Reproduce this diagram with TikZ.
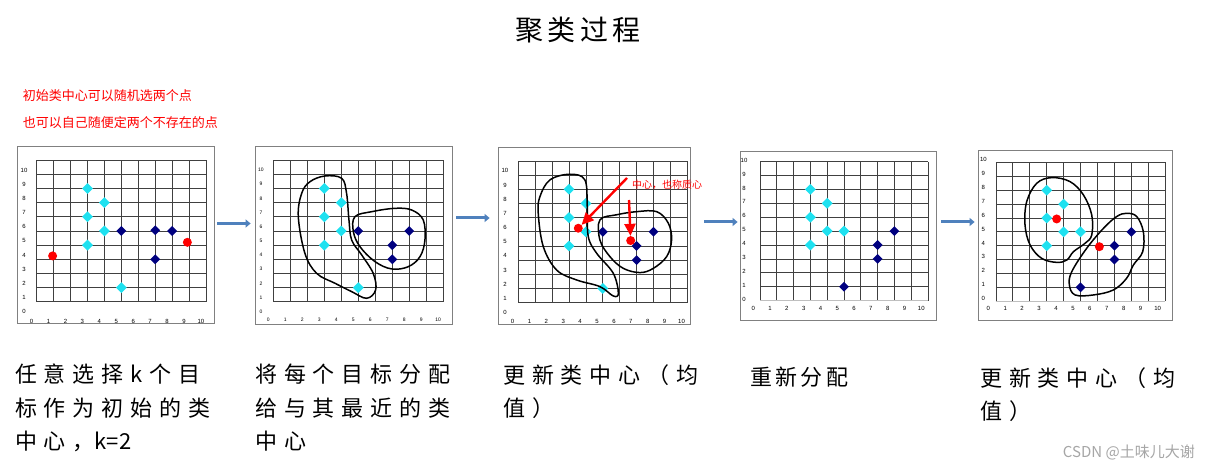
\documentclass[tikz,border=0pt]{standalone}
\usepackage{fontspec}
\setmainfont{Liberation Sans}
\newfontfamily\cjk{Noto Sans CJK SC}
\newfontfamily\cjktitle[LetterSpace=15]{Noto Sans CJK SC}
\newfontfamily\cjkwide[LetterSpace=31]{Noto Sans CJK SC}
\newfontfamily\cjkmid[LetterSpace=15]{Noto Sans CJK SC}
\usetikzlibrary{shapes.geometric,arrows.meta}

\definecolor{ptcyan}{RGB}{30,225,240}
\definecolor{ptnavy}{RGB}{0,0,128}
\definecolor{ptred}{RGB}{255,0,0}
\definecolor{flowblue}{RGB}{79,129,189}

\tikzset{
  panel/.style={draw=gray, line width=0.8pt, inner sep=0pt},
  gridline/.style={black!75, line width=0.7pt, step={(1,1)}},
  axisline/.style={gray!50, line width=1.4pt},
  ticklab/.style={font=\fontsize{6}{6}\selectfont, inner sep=0pt},
  smalllab/.style={font=\fontsize{5}{5}\selectfont, inner sep=0pt},
  cyanpt/.style={diamond, fill=ptcyan, inner sep=0pt, minimum size=11pt},
  navypt/.style={diamond, fill=ptnavy, inner sep=0pt, minimum size=10pt},
  centre/.style={circle, fill=ptred, inner sep=0pt, minimum size=9pt},
  blob/.style={black, line width=1.5pt},
  flowarrow/.style={flowblue, line width=3pt, -{Triangle[length=5pt,width=8pt]}},
  notearrow/.style={ptred, line width=2.4pt, -{Triangle[length=12pt,width=11pt]}},
  hint/.style={anchor=west, inner sep=0pt, text=ptred, font=\cjk\fontsize{13}{13}\selectfont},
  caption/.style={anchor=north west, align=left, inner sep=0pt, font=\cjkwide\fontsize{22}{33.5}\selectfont}
}

\begin{document}
\begin{tikzpicture}[x=1pt, y=-1pt]
    \path[fill=white, use as bounding box] (0,0) rectangle (1210,473);

    % Title and hints
    \node[font=\cjktitle\fontsize{28}{28}\selectfont] (title) at (578,30) {聚类过程};
    \node[hint] (hint1) at (22.7,96) {初始类中心可以随机选两个点};
    \node[hint] (hint2) at (22.7,122.5) {也可以自己随便定两个不存在的点};

    % Panel frames
    \node[panel, minimum width=197pt, minimum height=177pt] (p1) at (115.5,234.5) {};
    \node[panel, minimum width=197pt, minimum height=178pt] (p2) at (353.5,235) {};
    \node[panel, minimum width=192pt, minimum height=177pt] (p3) at (594,235.8) {};
    \node[panel, minimum width=196pt, minimum height=169pt] (p4) at (838,235.5) {};
    \node[panel, minimum width=194pt, minimum height=170pt] (p5) at (1075,235) {};

    % Panel 1: random start centres
    \begin{scope}[shift={(36.7,316)}, x=16.93pt, y=14.17pt]
        \draw[gridline] (0,1) grid (10,11);
        \foreach \v in {0,...,10} {
            \node[ticklab] (p1-y\v) at (-0.75,\v+0.3) {\v};
            \node[ticklab] (p1-x\v) at (\v-0.3,-0.38) {\v};
        }
        \foreach \x/\y [count=\i] in {3/9,4/8,3/7,4/6,3/5,5/2}
            \node[cyanpt] (p1-c\i) at (\x,\y) {};
        \foreach \x/\y [count=\i] in {5/6,7/6.05,8/6,7/4}
            \node[navypt] (p1-n\i) at (\x,\y) {};
        \node[centre] (p1-r1) at (0.94,4.24) {};
        \node[centre] (p1-r2) at (8.9,5.2) {};
    \end{scope}

    % Panel 2: assign to nearest centre
    \begin{scope}[shift={(273.3,316)}, x=17pt, y=14.17pt]
        \draw[gridline] (0,1) grid (10,11);
        \foreach \v in {0,...,10} {
            \node[smalllab] (p2-y\v) at (-0.73,\v+0.3) {\v};
            \node[smalllab] (p2-x\v) at (\v-0.3,-0.3) {\v};
        }
        \foreach \x/\y [count=\i] in {3/9,4/8,3/7,4/6,3/5,5/2}
            \node[cyanpt] (p2-c\i) at (\x,\y) {};
        \foreach \x/\y [count=\i] in {5/6,7/5,8/6,7/4}
            \node[navypt] (p2-n\i) at (\x,\y) {};
        \draw[blob] plot[smooth cycle, tension=0.6] coordinates {(3.04,9.88) (4.02,9.72) (4.31,8.66) (4.45,6.78) (4.61,5.36) (5.2,4.31) (5.88,3.0) (6.02,1.84) (5.49,1.25) (4.61,1.72) (3.63,2.31) (2.55,3.01) (1.86,4.42) (1.47,7.01) (1.67,8.66) (2.16,9.48)};
        \draw[blob] plot[smooth cycle, tension=0.6] coordinates {(4.8,7.01) (5.78,7.36) (7.16,7.6) (8.14,7.48) (8.82,6.78) (8.92,5.36) (8.63,4.19) (7.94,3.48) (6.96,3.32) (5.98,3.84) (5.1,4.89) (4.71,5.95)};
    \end{scope}

    % Panel 3: new centres
    \begin{scope}[shift={(518.3,316.8)}, x=16.9pt, y=14.17pt]
        \draw[gridline] (0,1) grid (10,11);
        \foreach \v in {0,...,10} {
            \node[ticklab] (p3-y\v) at (-0.79,\v+0.3) {\v};
            \node[ticklab] (p3-x\v) at (\v-0.34,-0.34) {\v};
        }
        \foreach \x/\y [count=\i] in {3/9,4/8,3/7,4/6,3/5,5/2}
            \node[cyanpt] (p3-c\i) at (\x,\y) {};
        \foreach \x/\y [count=\i] in {5/6,8/6,7/5,7/4}
            \node[navypt] (p3-n\i) at (\x,\y) {};
        \draw[blob] plot[smooth cycle, tension=0.6] coordinates {(3.06,10.06) (3.94,9.66) (4.08,7.78) (4.14,5.66) (4.64,4.48) (5.62,3.07) (5.92,1.66) (5.62,1.47) (4.83,2.13) (3.45,2.6) (2.27,3.3) (1.48,4.95) (1.18,7.3) (1.28,8.48) (1.87,9.66)};
        \draw[blob] plot[smooth cycle, tension=0.6] coordinates {(4.83,6.84) (5.82,7.2) (7.0,7.42) (8.19,7.42) (8.88,6.6) (9.07,5.42) (8.78,4.25) (7.99,3.42) (7.2,3.12) (6.21,3.42) (5.42,4.25) (4.83,5.42)};
        \node[centre] (p3-r1) at (3.55,6.25) {};
        \node[centre] (p3-r2) at (6.65,5.38) {};
    \end{scope}
    \node[anchor=west, inner sep=0pt, text=ptred, font=\cjk\fontsize{10}{10}\selectfont] (note) at (632,185) {中心，也称质心};
    \draw[notearrow] ([xshift=-5pt,yshift=7pt]note.west) -- (p3-r1);
    \draw[notearrow] ([xshift=-3pt,yshift=-15pt]note.west) -- (p3-r2);

    % Panel 4: reassign
    \begin{scope}[shift={(760,300.6)}, x=16.8pt, y=13.9pt]
        \draw[gridline] (0,0) grid (10,10);
        \draw[axisline] (0,0) -- (10,0);
        \foreach \v in {0,...,10} {
            \node[ticklab] (p4-y\v) at (-0.95,\v+0.1) {\v};
            \node[ticklab] (p4-x\v) at (\v-0.4,-0.56) {\v};
        }
        \foreach \x/\y [count=\i] in {3/8,4/7,3/6,4/5,5/5,3/4}
            \node[cyanpt] (p4-c\i) at (\x,\y) {};
        \foreach \x/\y [count=\i] in {8/5,7/4,7/3,5/1}
            \node[navypt] (p4-n\i) at (\x,\y) {};
    \end{scope}

    % Panel 5: centres again
    \begin{scope}[shift={(995.9,301.2)}, x=16.93pt, y=13.87pt]
        \draw[gridline] (0,0) grid (10,10);
        \draw[axisline] (0,0) -- (10,0);
        \foreach \v in {0,...,10} {
            \node[ticklab] (p5-y\v) at (-0.74,\v+0.2) {\v};
            \node[ticklab] (p5-x\v) at (\v-0.45,-0.5) {\v};
        }
        \foreach \x/\y [count=\i] in {3/8,4/7,3/6,4/5,5/5,3/4}
            \node[cyanpt] (p5-c\i) at (\x,\y) {};
        \foreach \x/\y [count=\i] in {8/5,7/4,7/3,5/1}
            \node[navypt] (p5-n\i) at (\x,\y) {};
        \draw[blob] plot[smooth cycle, tension=0.6] coordinates {(3.3,8.91) (4.38,8.62) (5.17,7.66) (5.66,6.22) (5.66,4.77) (5.26,4.17) (4.58,3.57) (4.19,2.97) (3.59,2.8) (2.7,3.09) (2.02,4.05) (1.72,5.49) (1.82,7.18) (2.41,8.5)};
        \draw[blob] plot[smooth cycle, tension=0.6] coordinates {(7.72,6.34) (8.32,6.1) (8.71,5.0) (8.67,3.57) (8.12,2.61) (7.72,1.65) (6.94,0.81) (5.76,0.45) (4.68,0.45) (4.34,1.17) (4.48,2.13) (5.36,3.81) (6.35,5.25) (7.13,6.1)};
        \node[centre] (p5-r1) at (3.59,5.93) {};
        \node[centre] (p5-r2) at (6.11,3.93) {};
    \end{scope}

    % Steps between panels
    \draw[flowarrow, shorten <=3pt, shorten >=4pt] ([yshift=11pt]p1.east) -- ([yshift=11.5pt]p2.west);
    \draw[flowarrow, shorten <=4pt, shorten >=8pt] ([yshift=17pt]p2.east) -- ([yshift=17.8pt]p3.west);
    \draw[flowarrow, shorten <=14pt, shorten >=2pt] ([yshift=13.8pt]p3.east) -- ([yshift=13.5pt]p4.west);
    \draw[flowarrow, shorten <=5pt, shorten >=3pt] ([yshift=13.5pt]p4.east) -- ([yshift=13pt]p5.west);

    % Captions
    \node[caption] (cap1) at (15,364) {任意选择k个目\\标作为初始的类\\中心，{\cjk k=2}};
    \node[caption] (cap2) at (255,364) {将每个目标分配\\给与其最近的类\\中心};
    \node[caption] (cap3) at (503,364) {更新类中心（均\\值）};
    \node[caption, font=\cjkmid\fontsize{22}{33.5}\selectfont] (cap4) at (750,367) {重新分配};
    \node[caption] (cap5) at (980,367) {更新类中心（均\\值）};

    \node[anchor=east, inner sep=0pt, text=gray!70, font=\cjk\fontsize{15}{15}\selectfont] (mark) at (1195,452) {CSDN @土味儿大谢};
\end{tikzpicture}
\end{document}
